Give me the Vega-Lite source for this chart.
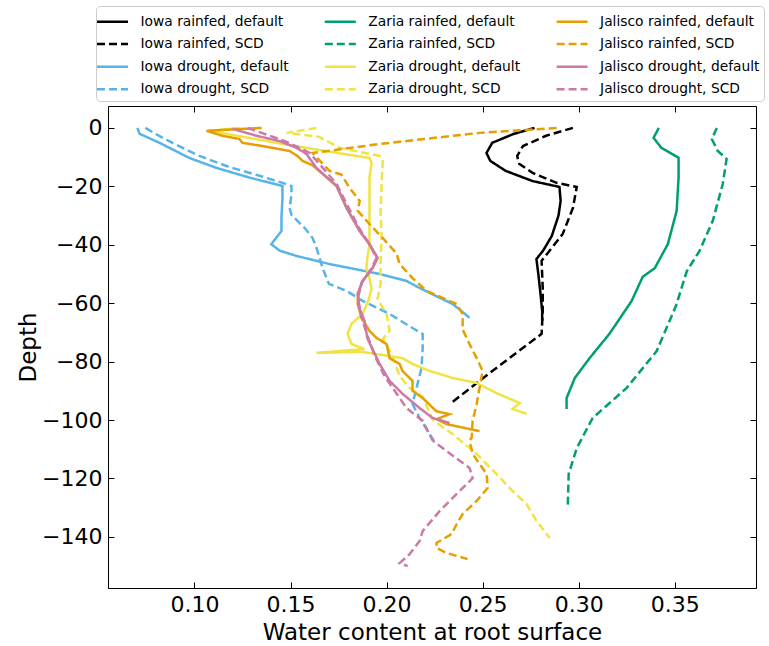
{
"$schema": "https://vega.github.io/schema/vega-lite/v6.json",
"width": 648, "height": 482,
"autosize": "none",
"padding": {"left": 108, "top": 106, "right": 13, "bottom": 58},
"config": {
  "font": "DejaVu Sans",
  "view": {"stroke": "black", "strokeWidth": 1},
  "axis": {"domainColor": "black", "tickColor": "black", "labelColor": "black", "titleColor": "black", "labelFontSize": 22, "titleFontSize": 23, "titleFontWeight": "normal", "tickSize": -6, "labelPadding": 12, "grid": false, "labelFont": "DejaVu Sans", "titleFont": "DejaVu Sans"},
  "legend": {"orient": "none", "legendX": -12, "legendY": -100, "columns": 3, "symbolType": "M-1.55,0H1.55", "symbolSize": 400, "symbolStrokeWidth": 2.5, "symbolOffset": 1, "labelFontSize": 13.8, "labelFont": "DejaVu Sans", "labelColor": "black", "labelOffset": 16.5, "columnPadding": 30.8, "rowPadding": 3.6, "padding": 4, "strokeColor": "#cccccc", "fillColor": "white", "cornerRadius": 4, "labelLimit": 300}
},
"datasets": {"d": [
{"s":"Iowa rainfed, default","i":0,"x":0.277,"y":0},
{"s":"Iowa rainfed, default","i":1,"x":0.266,"y":-2.1},
{"s":"Iowa rainfed, default","i":2,"x":0.255,"y":-5.1},
{"s":"Iowa rainfed, default","i":3,"x":0.252,"y":-8.6},
{"s":"Iowa rainfed, default","i":4,"x":0.254,"y":-11.3},
{"s":"Iowa rainfed, default","i":5,"x":0.262,"y":-14.7},
{"s":"Iowa rainfed, default","i":6,"x":0.276,"y":-18.2},
{"s":"Iowa rainfed, default","i":7,"x":0.290,"y":-20.2},
{"s":"Iowa rainfed, default","i":8,"x":0.2906,"y":-25},
{"s":"Iowa rainfed, default","i":9,"x":0.2895,"y":-30},
{"s":"Iowa rainfed, default","i":10,"x":0.2860,"y":-37},
{"s":"Iowa rainfed, default","i":11,"x":0.2815,"y":-42},
{"s":"Iowa rainfed, default","i":12,"x":0.278,"y":-44.9},
{"s":"Iowa rainfed, default","i":13,"x":0.279,"y":-50},
{"s":"Iowa rainfed, default","i":14,"x":0.280,"y":-56},
{"s":"Iowa rainfed, default","i":15,"x":0.281,"y":-62.7},
{"s":"Iowa rainfed, default","i":16,"x":0.281,"y":-66},
{"s":"Iowa rainfed, SCD","i":0,"x":0.297,"y":0},
{"s":"Iowa rainfed, SCD","i":1,"x":0.283,"y":-2.7},
{"s":"Iowa rainfed, SCD","i":2,"x":0.271,"y":-6.2},
{"s":"Iowa rainfed, SCD","i":3,"x":0.268,"y":-9.6},
{"s":"Iowa rainfed, SCD","i":4,"x":0.269,"y":-12.3},
{"s":"Iowa rainfed, SCD","i":5,"x":0.276,"y":-15.4},
{"s":"Iowa rainfed, SCD","i":6,"x":0.2885,"y":-18.8},
{"s":"Iowa rainfed, SCD","i":7,"x":0.299,"y":-20.2},
{"s":"Iowa rainfed, SCD","i":8,"x":0.297,"y":-27.4},
{"s":"Iowa rainfed, SCD","i":9,"x":0.2917,"y":-36.3},
{"s":"Iowa rainfed, SCD","i":10,"x":0.2807,"y":-45.5},
{"s":"Iowa rainfed, SCD","i":11,"x":0.2813,"y":-55},
{"s":"Iowa rainfed, SCD","i":12,"x":0.2813,"y":-62.7},
{"s":"Iowa rainfed, SCD","i":13,"x":0.2807,"y":-70.5},
{"s":"Iowa rainfed, SCD","i":14,"x":0.2495,"y":-86},
{"s":"Iowa rainfed, SCD","i":15,"x":0.2344,"y":-93.8},
{"s":"Iowa drought, default","i":0,"x":0.0703,"y":0},
{"s":"Iowa drought, default","i":1,"x":0.0714,"y":-2},
{"s":"Iowa drought, default","i":2,"x":0.0818,"y":-5.1},
{"s":"Iowa drought, default","i":3,"x":0.0974,"y":-10.3},
{"s":"Iowa drought, default","i":4,"x":0.1115,"y":-13.7},
{"s":"Iowa drought, default","i":5,"x":0.1286,"y":-17},
{"s":"Iowa drought, default","i":6,"x":0.1458,"y":-19.9},
{"s":"Iowa drought, default","i":7,"x":0.1458,"y":-24},
{"s":"Iowa drought, default","i":8,"x":0.1453,"y":-30.8},
{"s":"Iowa drought, default","i":9,"x":0.1453,"y":-35.3},
{"s":"Iowa drought, default","i":10,"x":0.1400,"y":-39.8},
{"s":"Iowa drought, default","i":11,"x":0.1443,"y":-42},
{"s":"Iowa drought, default","i":12,"x":0.1530,"y":-43.8},
{"s":"Iowa drought, default","i":13,"x":0.1703,"y":-46.6},
{"s":"Iowa drought, default","i":14,"x":0.1964,"y":-50},
{"s":"Iowa drought, default","i":15,"x":0.2104,"y":-52.4},
{"s":"Iowa drought, default","i":16,"x":0.2172,"y":-54.8},
{"s":"Iowa drought, default","i":17,"x":0.2344,"y":-60.3},
{"s":"Iowa drought, default","i":18,"x":0.2390,"y":-62.7},
{"s":"Iowa drought, default","i":19,"x":0.2432,"y":-65},
{"s":"Iowa drought, SCD","i":0,"x":0.0745,"y":0},
{"s":"Iowa drought, SCD","i":1,"x":0.0807,"y":-2.4},
{"s":"Iowa drought, SCD","i":2,"x":0.0896,"y":-5.5},
{"s":"Iowa drought, SCD","i":3,"x":0.1026,"y":-9.6},
{"s":"Iowa drought, SCD","i":4,"x":0.1182,"y":-13.4},
{"s":"Iowa drought, SCD","i":5,"x":0.1339,"y":-16.4},
{"s":"Iowa drought, SCD","i":6,"x":0.1458,"y":-18.8},
{"s":"Iowa drought, SCD","i":7,"x":0.1505,"y":-19.9},
{"s":"Iowa drought, SCD","i":8,"x":0.1505,"y":-23},
{"s":"Iowa drought, SCD","i":9,"x":0.1495,"y":-27.4},
{"s":"Iowa drought, SCD","i":10,"x":0.1505,"y":-29.8},
{"s":"Iowa drought, SCD","i":11,"x":0.1573,"y":-34.2},
{"s":"Iowa drought, SCD","i":12,"x":0.1615,"y":-37.7},
{"s":"Iowa drought, SCD","i":13,"x":0.1635,"y":-41},
{"s":"Iowa drought, SCD","i":14,"x":0.1667,"y":-48},
{"s":"Iowa drought, SCD","i":15,"x":0.1700,"y":-53.4},
{"s":"Iowa drought, SCD","i":16,"x":0.1792,"y":-55.8},
{"s":"Iowa drought, SCD","i":17,"x":0.1875,"y":-59.2},
{"s":"Iowa drought, SCD","i":18,"x":0.2016,"y":-63.7},
{"s":"Iowa drought, SCD","i":19,"x":0.2135,"y":-68.5},
{"s":"Iowa drought, SCD","i":20,"x":0.2188,"y":-70.5},
{"s":"Iowa drought, SCD","i":21,"x":0.2188,"y":-75.3},
{"s":"Iowa drought, SCD","i":22,"x":0.2182,"y":-82.2},
{"s":"Iowa drought, SCD","i":23,"x":0.2156,"y":-89},
{"s":"Iowa drought, SCD","i":24,"x":0.2135,"y":-94.5},
{"s":"Iowa drought, SCD","i":25,"x":0.2172,"y":-99.3},
{"s":"Iowa drought, SCD","i":26,"x":0.2224,"y":-104.8},
{"s":"Iowa drought, SCD","i":27,"x":0.2245,"y":-107},
{"s":"Zaria rainfed, default","i":0,"x":0.3417,"y":0},
{"s":"Zaria rainfed, default","i":1,"x":0.339,"y":-3.4},
{"s":"Zaria rainfed, default","i":2,"x":0.343,"y":-6.8},
{"s":"Zaria rainfed, default","i":3,"x":0.352,"y":-10.2},
{"s":"Zaria rainfed, default","i":4,"x":0.352,"y":-17},
{"s":"Zaria rainfed, default","i":5,"x":0.351,"y":-28.4},
{"s":"Zaria rainfed, default","i":6,"x":0.3464,"y":-39.8},
{"s":"Zaria rainfed, default","i":7,"x":0.3396,"y":-48},
{"s":"Zaria rainfed, default","i":8,"x":0.3333,"y":-51},
{"s":"Zaria rainfed, default","i":9,"x":0.3276,"y":-59.2},
{"s":"Zaria rainfed, default","i":10,"x":0.316,"y":-70.5},
{"s":"Zaria rainfed, default","i":11,"x":0.3057,"y":-78.8},
{"s":"Zaria rainfed, default","i":12,"x":0.298,"y":-85.6},
{"s":"Zaria rainfed, default","i":13,"x":0.2937,"y":-92.5},
{"s":"Zaria rainfed, default","i":14,"x":0.2937,"y":-96.2},
{"s":"Zaria rainfed, SCD","i":0,"x":0.3719,"y":0},
{"s":"Zaria rainfed, SCD","i":1,"x":0.3693,"y":-3.8},
{"s":"Zaria rainfed, SCD","i":2,"x":0.3724,"y":-7.9},
{"s":"Zaria rainfed, SCD","i":3,"x":0.377,"y":-10.6},
{"s":"Zaria rainfed, SCD","i":4,"x":0.375,"y":-19.2},
{"s":"Zaria rainfed, SCD","i":5,"x":0.3698,"y":-31.8},
{"s":"Zaria rainfed, SCD","i":6,"x":0.363,"y":-42},
{"s":"Zaria rainfed, SCD","i":7,"x":0.3563,"y":-49},
{"s":"Zaria rainfed, SCD","i":8,"x":0.3526,"y":-56.8},
{"s":"Zaria rainfed, SCD","i":9,"x":0.3506,"y":-61},
{"s":"Zaria rainfed, SCD","i":10,"x":0.3406,"y":-76.4},
{"s":"Zaria rainfed, SCD","i":11,"x":0.325,"y":-89},
{"s":"Zaria rainfed, SCD","i":12,"x":0.3073,"y":-99.3},
{"s":"Zaria rainfed, SCD","i":13,"x":0.299,"y":-109.6},
{"s":"Zaria rainfed, SCD","i":14,"x":0.2948,"y":-118.5},
{"s":"Zaria rainfed, SCD","i":15,"x":0.2943,"y":-130.1},
{"s":"Zaria drought, default","i":0,"x":0.1234,"y":0},
{"s":"Zaria drought, default","i":1,"x":0.1078,"y":-1},
{"s":"Zaria drought, default","i":2,"x":0.130,"y":-3.6},
{"s":"Zaria drought, default","i":3,"x":0.1495,"y":-5.9},
{"s":"Zaria drought, default","i":4,"x":0.170,"y":-8.1},
{"s":"Zaria drought, default","i":5,"x":0.1911,"y":-10.3},
{"s":"Zaria drought, default","i":6,"x":0.1922,"y":-12},
{"s":"Zaria drought, default","i":7,"x":0.1911,"y":-17},
{"s":"Zaria drought, default","i":8,"x":0.1911,"y":-28.4},
{"s":"Zaria drought, default","i":9,"x":0.1911,"y":-39.8},
{"s":"Zaria drought, default","i":10,"x":0.1900,"y":-44.5},
{"s":"Zaria drought, default","i":11,"x":0.1895,"y":-48},
{"s":"Zaria drought, default","i":12,"x":0.1911,"y":-51.4},
{"s":"Zaria drought, default","i":13,"x":0.1922,"y":-55},
{"s":"Zaria drought, default","i":14,"x":0.1906,"y":-59},
{"s":"Zaria drought, default","i":15,"x":0.1875,"y":-63.7},
{"s":"Zaria drought, default","i":16,"x":0.1818,"y":-67},
{"s":"Zaria drought, default","i":17,"x":0.1797,"y":-70.5},
{"s":"Zaria drought, default","i":18,"x":0.1818,"y":-74},
{"s":"Zaria drought, default","i":19,"x":0.1885,"y":-75.7},
{"s":"Zaria drought, default","i":20,"x":0.1635,"y":-77},
{"s":"Zaria drought, default","i":21,"x":0.1875,"y":-76.7},
{"s":"Zaria drought, default","i":22,"x":0.2083,"y":-78.8},
{"s":"Zaria drought, default","i":23,"x":0.2135,"y":-80.8},
{"s":"Zaria drought, default","i":24,"x":0.2224,"y":-83.2},
{"s":"Zaria drought, default","i":25,"x":0.2344,"y":-85.6},
{"s":"Zaria drought, default","i":26,"x":0.2469,"y":-87.3},
{"s":"Zaria drought, default","i":27,"x":0.2573,"y":-90.8},
{"s":"Zaria drought, default","i":28,"x":0.2693,"y":-94.2},
{"s":"Zaria drought, default","i":29,"x":0.2656,"y":-96.2},
{"s":"Zaria drought, default","i":30,"x":0.2729,"y":-97.9},
{"s":"Zaria drought, SCD","i":0,"x":0.1635,"y":0},
{"s":"Zaria drought, SCD","i":1,"x":0.148,"y":-1.7},
{"s":"Zaria drought, SCD","i":2,"x":0.165,"y":-3.1},
{"s":"Zaria drought, SCD","i":3,"x":0.1755,"y":-6.8},
{"s":"Zaria drought, SCD","i":4,"x":0.1964,"y":-9.6},
{"s":"Zaria drought, SCD","i":5,"x":0.198,"y":-11.3},
{"s":"Zaria drought, SCD","i":6,"x":0.1974,"y":-20},
{"s":"Zaria drought, SCD","i":7,"x":0.1969,"y":-28.4},
{"s":"Zaria drought, SCD","i":8,"x":0.1974,"y":-37.7},
{"s":"Zaria drought, SCD","i":9,"x":0.1969,"y":-45.5},
{"s":"Zaria drought, SCD","i":10,"x":0.1969,"y":-53.4},
{"s":"Zaria drought, SCD","i":11,"x":0.1953,"y":-58.6},
{"s":"Zaria drought, SCD","i":12,"x":0.2000,"y":-63.7},
{"s":"Zaria drought, SCD","i":13,"x":0.2016,"y":-69.5},
{"s":"Zaria drought, SCD","i":14,"x":0.1980,"y":-72.3},
{"s":"Zaria drought, SCD","i":15,"x":0.2000,"y":-74},
{"s":"Zaria drought, SCD","i":16,"x":0.2042,"y":-80},
{"s":"Zaria drought, SCD","i":17,"x":0.2068,"y":-85},
{"s":"Zaria drought, SCD","i":18,"x":0.2120,"y":-89},
{"s":"Zaria drought, SCD","i":19,"x":0.2188,"y":-92},
{"s":"Zaria drought, SCD","i":20,"x":0.2240,"y":-100},
{"s":"Zaria drought, SCD","i":21,"x":0.2344,"y":-104.8},
{"s":"Zaria drought, SCD","i":22,"x":0.2469,"y":-111.6},
{"s":"Zaria drought, SCD","i":23,"x":0.2573,"y":-118.5},
{"s":"Zaria drought, SCD","i":24,"x":0.2656,"y":-124.3},
{"s":"Zaria drought, SCD","i":25,"x":0.2729,"y":-128.8},
{"s":"Zaria drought, SCD","i":26,"x":0.2781,"y":-134.6},
{"s":"Zaria drought, SCD","i":27,"x":0.2849,"y":-140.4},
{"s":"Jalisco rainfed, default","i":0,"x":0.135,"y":0},
{"s":"Jalisco rainfed, default","i":1,"x":0.1063,"y":-1},
{"s":"Jalisco rainfed, default","i":2,"x":0.1146,"y":-2.7},
{"s":"Jalisco rainfed, default","i":3,"x":0.1234,"y":-3.8},
{"s":"Jalisco rainfed, default","i":4,"x":0.125,"y":-5.1},
{"s":"Jalisco rainfed, default","i":5,"x":0.1354,"y":-6.2},
{"s":"Jalisco rainfed, default","i":6,"x":0.1495,"y":-7.9},
{"s":"Jalisco rainfed, default","i":7,"x":0.1536,"y":-9.6},
{"s":"Jalisco rainfed, default","i":8,"x":0.1563,"y":-11.3},
{"s":"Jalisco rainfed, default","i":9,"x":0.1615,"y":-12.8},
{"s":"Jalisco rainfed, default","i":10,"x":0.1740,"y":-19.9},
{"s":"Jalisco rainfed, default","i":11,"x":0.1792,"y":-27.4},
{"s":"Jalisco rainfed, default","i":12,"x":0.1860,"y":-35.3},
{"s":"Jalisco rainfed, default","i":13,"x":0.1910,"y":-39.7},
{"s":"Jalisco rainfed, default","i":14,"x":0.1953,"y":-44.5},
{"s":"Jalisco rainfed, default","i":15,"x":0.1927,"y":-48},
{"s":"Jalisco rainfed, default","i":16,"x":0.1875,"y":-52.4},
{"s":"Jalisco rainfed, default","i":17,"x":0.1850,"y":-56.8},
{"s":"Jalisco rainfed, default","i":18,"x":0.1850,"y":-60.3},
{"s":"Jalisco rainfed, default","i":19,"x":0.1870,"y":-65},
{"s":"Jalisco rainfed, default","i":20,"x":0.1911,"y":-69.5},
{"s":"Jalisco rainfed, default","i":21,"x":0.1948,"y":-71.9},
{"s":"Jalisco rainfed, default","i":22,"x":0.2000,"y":-74},
{"s":"Jalisco rainfed, default","i":23,"x":0.2016,"y":-78.8},
{"s":"Jalisco rainfed, default","i":24,"x":0.2068,"y":-80.8},
{"s":"Jalisco rainfed, default","i":25,"x":0.2083,"y":-83.2},
{"s":"Jalisco rainfed, default","i":26,"x":0.2135,"y":-86.6},
{"s":"Jalisco rainfed, default","i":27,"x":0.2135,"y":-90},
{"s":"Jalisco rainfed, default","i":28,"x":0.2188,"y":-92.5},
{"s":"Jalisco rainfed, default","i":29,"x":0.2260,"y":-97},
{"s":"Jalisco rainfed, default","i":30,"x":0.2328,"y":-98},
{"s":"Jalisco rainfed, default","i":31,"x":0.2260,"y":-99.7},
{"s":"Jalisco rainfed, default","i":32,"x":0.2312,"y":-101.4},
{"s":"Jalisco rainfed, default","i":33,"x":0.2484,"y":-103.8},
{"s":"Jalisco rainfed, SCD","i":0,"x":0.2885,"y":0},
{"s":"Jalisco rainfed, SCD","i":1,"x":0.2484,"y":-1.7},
{"s":"Jalisco rainfed, SCD","i":2,"x":0.1964,"y":-5.5},
{"s":"Jalisco rainfed, SCD","i":3,"x":0.1615,"y":-8.6},
{"s":"Jalisco rainfed, SCD","i":4,"x":0.1703,"y":-14.7},
{"s":"Jalisco rainfed, SCD","i":5,"x":0.1765,"y":-16},
{"s":"Jalisco rainfed, SCD","i":6,"x":0.1807,"y":-20.5},
{"s":"Jalisco rainfed, SCD","i":7,"x":0.1860,"y":-25},
{"s":"Jalisco rainfed, SCD","i":8,"x":0.1850,"y":-28.4},
{"s":"Jalisco rainfed, SCD","i":9,"x":0.1911,"y":-32.9},
{"s":"Jalisco rainfed, SCD","i":10,"x":0.1980,"y":-37.7},
{"s":"Jalisco rainfed, SCD","i":11,"x":0.2052,"y":-43},
{"s":"Jalisco rainfed, SCD","i":12,"x":0.2068,"y":-46.6},
{"s":"Jalisco rainfed, SCD","i":13,"x":0.2135,"y":-51.4},
{"s":"Jalisco rainfed, SCD","i":14,"x":0.2208,"y":-55.8},
{"s":"Jalisco rainfed, SCD","i":15,"x":0.2365,"y":-60.3},
{"s":"Jalisco rainfed, SCD","i":16,"x":0.2396,"y":-63.7},
{"s":"Jalisco rainfed, SCD","i":17,"x":0.2396,"y":-69},
{"s":"Jalisco rainfed, SCD","i":18,"x":0.2432,"y":-74},
{"s":"Jalisco rainfed, SCD","i":19,"x":0.2469,"y":-78.8},
{"s":"Jalisco rainfed, SCD","i":20,"x":0.2500,"y":-83.2},
{"s":"Jalisco rainfed, SCD","i":21,"x":0.2484,"y":-89},
{"s":"Jalisco rainfed, SCD","i":22,"x":0.2469,"y":-94.5},
{"s":"Jalisco rainfed, SCD","i":23,"x":0.2448,"y":-100.3},
{"s":"Jalisco rainfed, SCD","i":24,"x":0.2443,"y":-106},
{"s":"Jalisco rainfed, SCD","i":25,"x":0.2432,"y":-107.2},
{"s":"Jalisco rainfed, SCD","i":26,"x":0.2448,"y":-111.6},
{"s":"Jalisco rainfed, SCD","i":27,"x":0.2521,"y":-118.5},
{"s":"Jalisco rainfed, SCD","i":28,"x":0.2526,"y":-123.3},
{"s":"Jalisco rainfed, SCD","i":29,"x":0.2469,"y":-127.7},
{"s":"Jalisco rainfed, SCD","i":30,"x":0.2396,"y":-132.2},
{"s":"Jalisco rainfed, SCD","i":31,"x":0.2365,"y":-135.6},
{"s":"Jalisco rainfed, SCD","i":32,"x":0.2339,"y":-139},
{"s":"Jalisco rainfed, SCD","i":33,"x":0.2260,"y":-142.1},
{"s":"Jalisco rainfed, SCD","i":34,"x":0.2260,"y":-143.8},
{"s":"Jalisco rainfed, SCD","i":35,"x":0.2312,"y":-145.5},
{"s":"Jalisco rainfed, SCD","i":36,"x":0.2422,"y":-147.6},
{"s":"Jalisco drought, default","i":0,"x":0.1198,"y":-0.3},
{"s":"Jalisco drought, default","i":1,"x":0.1323,"y":-2.7},
{"s":"Jalisco drought, default","i":2,"x":0.1443,"y":-4.5},
{"s":"Jalisco drought, default","i":3,"x":0.1531,"y":-6.8},
{"s":"Jalisco drought, default","i":4,"x":0.1583,"y":-8.9},
{"s":"Jalisco drought, default","i":5,"x":0.1635,"y":-13.7},
{"s":"Jalisco drought, default","i":6,"x":0.1740,"y":-19.9},
{"s":"Jalisco drought, default","i":7,"x":0.1792,"y":-27.4},
{"s":"Jalisco drought, default","i":8,"x":0.1860,"y":-35.3},
{"s":"Jalisco drought, default","i":9,"x":0.1910,"y":-39.7},
{"s":"Jalisco drought, default","i":10,"x":0.1953,"y":-44.5},
{"s":"Jalisco drought, default","i":11,"x":0.1927,"y":-48},
{"s":"Jalisco drought, default","i":12,"x":0.1875,"y":-52.4},
{"s":"Jalisco drought, default","i":13,"x":0.1850,"y":-56.8},
{"s":"Jalisco drought, default","i":14,"x":0.1860,"y":-62},
{"s":"Jalisco drought, default","i":15,"x":0.1885,"y":-66},
{"s":"Jalisco drought, default","i":16,"x":0.1900,"y":-72},
{"s":"Jalisco drought, default","i":17,"x":0.1964,"y":-80.8},
{"s":"Jalisco drought, default","i":18,"x":0.2016,"y":-86.6},
{"s":"Jalisco drought, default","i":19,"x":0.2083,"y":-91},
{"s":"Jalisco drought, default","i":20,"x":0.2172,"y":-95.9},
{"s":"Jalisco drought, default","i":21,"x":0.2240,"y":-99.3},
{"s":"Jalisco drought, default","i":22,"x":0.2328,"y":-101},
{"s":"Jalisco drought, SCD","i":0,"x":0.1276,"y":0},
{"s":"Jalisco drought, SCD","i":1,"x":0.1350,"y":-1.7},
{"s":"Jalisco drought, SCD","i":2,"x":0.1470,"y":-4.5},
{"s":"Jalisco drought, SCD","i":3,"x":0.1547,"y":-6.8},
{"s":"Jalisco drought, SCD","i":4,"x":0.1600,"y":-8.6},
{"s":"Jalisco drought, SCD","i":5,"x":0.1650,"y":-12.3},
{"s":"Jalisco drought, SCD","i":6,"x":0.1740,"y":-19.2},
{"s":"Jalisco drought, SCD","i":7,"x":0.1797,"y":-26.7},
{"s":"Jalisco drought, SCD","i":8,"x":0.1860,"y":-34.6},
{"s":"Jalisco drought, SCD","i":9,"x":0.1910,"y":-39.7},
{"s":"Jalisco drought, SCD","i":10,"x":0.1948,"y":-44.5},
{"s":"Jalisco drought, SCD","i":11,"x":0.1922,"y":-48},
{"s":"Jalisco drought, SCD","i":12,"x":0.1870,"y":-53},
{"s":"Jalisco drought, SCD","i":13,"x":0.1850,"y":-58.6},
{"s":"Jalisco drought, SCD","i":14,"x":0.1870,"y":-65},
{"s":"Jalisco drought, SCD","i":15,"x":0.1900,"y":-71},
{"s":"Jalisco drought, SCD","i":16,"x":0.1938,"y":-78},
{"s":"Jalisco drought, SCD","i":17,"x":0.1990,"y":-85},
{"s":"Jalisco drought, SCD","i":18,"x":0.2042,"y":-90},
{"s":"Jalisco drought, SCD","i":19,"x":0.2104,"y":-95.9},
{"s":"Jalisco drought, SCD","i":20,"x":0.2188,"y":-100.3},
{"s":"Jalisco drought, SCD","i":21,"x":0.2240,"y":-107},
{"s":"Jalisco drought, SCD","i":22,"x":0.2312,"y":-110.6},
{"s":"Jalisco drought, SCD","i":23,"x":0.2432,"y":-116.4},
{"s":"Jalisco drought, SCD","i":24,"x":0.2448,"y":-119.9},
{"s":"Jalisco drought, SCD","i":25,"x":0.2365,"y":-125.3},
{"s":"Jalisco drought, SCD","i":26,"x":0.2276,"y":-131.2},
{"s":"Jalisco drought, SCD","i":27,"x":0.2188,"y":-138},
{"s":"Jalisco drought, SCD","i":28,"x":0.2172,"y":-141.4},
{"s":"Jalisco drought, SCD","i":29,"x":0.2120,"y":-145.9},
{"s":"Jalisco drought, SCD","i":30,"x":0.2068,"y":-149},
{"s":"Jalisco drought, SCD","i":31,"x":0.2110,"y":-150}
]},
"data": {"name": "d"},
"layer": [
  {
    "mark": {"type": "line", "strokeWidth": 2.5},
    "encoding": {
      "x": {"field": "x", "type": "quantitative", "scale": {"domain": [0.055, 0.3923], "nice": false, "zero": false},
            "axis": {"orient": "bottom", "values": [0.1, 0.15, 0.2, 0.25, 0.3, 0.35], "format": ".2f", "title": "Water content at root surface", "titlePadding": 6}},
      "y": {"field": "y", "type": "quantitative", "scale": {"domain": [-157.5, 7.5], "nice": false, "zero": false},
            "axis": {"orient": "left", "values": [-140, -120, -100, -80, -60, -40, -20, 0], "title": "Depth", "titlePadding": 1}},
      "color": {"field": "s", "type": "nominal",
        "scale": {"domain": ["Iowa rainfed, default","Iowa rainfed, SCD","Iowa drought, default","Iowa drought, SCD","Zaria rainfed, default","Zaria rainfed, SCD","Zaria drought, default","Zaria drought, SCD","Jalisco rainfed, default","Jalisco rainfed, SCD","Jalisco drought, default","Jalisco drought, SCD"],
                  "range": ["#000000","#000000","#56B4E9","#56B4E9","#009E73","#009E73","#F0E442","#F0E442","#E69F00","#E69F00","#CC79A7","#CC79A7"]},
        "legend": {"title": null}},
      "strokeDash": {"field": "s", "type": "nominal",
        "scale": {"domain": ["Iowa rainfed, default","Iowa rainfed, SCD","Iowa drought, default","Iowa drought, SCD","Zaria rainfed, default","Zaria rainfed, SCD","Zaria drought, default","Zaria drought, SCD","Jalisco rainfed, default","Jalisco rainfed, SCD","Jalisco drought, default","Jalisco drought, SCD"],
                  "range": [[1,0],[8,4],[1,0],[8,4],[1,0],[8,4],[1,0],[8,4],[1,0],[8,4],[1,0],[8,4]]},
        "legend": {"title": null}},
      "order": {"field": "i", "type": "quantitative"}
    }
  },
  {
    "mark": {"type": "point", "opacity": 0},
    "encoding": {
      "x": {"field": "x", "type": "quantitative", "scale": {"domain": [0.055, 0.3923], "nice": false, "zero": false}, "axis": {"orient": "top", "values": [0.1, 0.15, 0.2, 0.25, 0.3, 0.35], "labels": false, "title": null, "domain": false}},
      "y": {"field": "y", "type": "quantitative", "scale": {"domain": [-157.5, 7.5], "nice": false, "zero": false}, "axis": {"orient": "right", "values": [-140, -120, -100, -80, -60, -40, -20, 0], "labels": false, "title": null, "domain": false}}
    }
  }
],
"resolve": {"axis": {"x": "independent", "y": "independent"}}
}
